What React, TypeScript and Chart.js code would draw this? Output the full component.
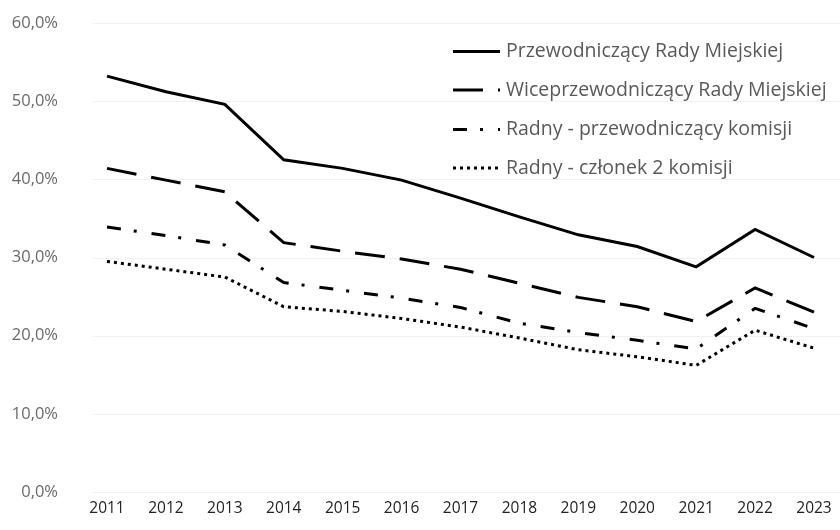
import React, { useEffect, useRef } from 'react';
import { Chart, registerables } from 'chart.js';

Chart.register(...registerables);

const years = ['2011', '2012', '2013', '2014', '2015', '2016', '2017', '2018', '2019', '2020', '2021', '2022', '2023'];
const przewodniczacy = [53.2, 51.2, 49.6, 42.5, 41.4, 39.9, 37.6, 35.2, 32.9, 31.4, 28.8, 33.6, 30.0];
const wiceprzewodniczacy = [41.4, 39.9, 38.4, 31.9, 30.8, 29.8, 28.5, 26.7, 24.9, 23.7, 21.8, 26.1, 23.0];
const radnyPrzewodniczacy = [33.9, 32.8, 31.6, 26.8, 25.8, 24.8, 23.6, 21.6, 20.4, 19.4, 18.3, 23.5, 20.9];
const radnyCzlonek = [29.5, 28.5, 27.5, 23.7, 23.1, 22.2, 21.1, 19.7, 18.2, 17.3, 16.2, 20.7, 18.4];

const seriesLabels = [
  'Przewodniczący Rady Miejskiej',
  'Wiceprzewodniczący Rady Miejskiej',
  'Radny - przewodniczący komisji',
  'Radny - członek 2 komisji',
];
const yTicks = [0, 10, 20, 30, 40, 50, 60];

const FONT = "'Open Sans', sans-serif";

const gridPlugin = {
  id: 'wideGrid',
  beforeDatasetsDraw(chart: any) {
    const ctx = chart.ctx;
    const yScale = chart.scales.y;
    ctx.save();
    ctx.strokeStyle = '#f1f1f1';
    ctx.lineWidth = 1;
    yScale.ticks.forEach((t: any) => {
      const y = Math.round(yScale.getPixelForValue(t.value)) + 0.5;
      ctx.beginPath();
      ctx.moveTo(93, y);
      ctx.lineTo(840, y);
      ctx.stroke();
    });
    ctx.restore();
  },
};

const legendPlugin = {
  id: 'insideLegend',
  afterDraw(chart: any) {
    const ctx = chart.ctx;
    const x0 = 453;
    const x1 = 500;
    const rows = [51.5, 90, 129.5, 168];
    ctx.save();
    chart.data.datasets.forEach((ds: any, i: number) => {
      const y = rows[i];
      ctx.beginPath();
      ctx.setLineDash(ds.borderDash || []);
      ctx.lineDashOffset = 0;
      ctx.lineWidth = ds.borderWidth;
      ctx.strokeStyle = ds.borderColor;
      ctx.lineCap = 'butt';
      ctx.moveTo(x0, y);
      ctx.lineTo(x1, y);
      ctx.stroke();
      ctx.setLineDash([]);
      ctx.fillStyle = '#595959';
      ctx.font = `19.5px ${FONT}`;
      ctx.textBaseline = 'middle';
      ctx.textAlign = 'left';
      ctx.fillText(ds.label, 506, y);
    });
    ctx.restore();
  },
};

export default function App() {
  const ref = useRef<HTMLCanvasElement>(null);
  useEffect(() => {
    document.body.style.margin = '0';
    const canvas = ref.current;
    if (!canvas) return;
    const chart = new Chart(canvas, {
      type: 'line',
      data: {
        labels: years,
        datasets: [
          { label: seriesLabels[0], data: przewodniczacy, borderColor: '#000', borderWidth: 3, borderDash: [], pointRadius: 0, fill: false, tension: 0 },
          { label: seriesLabels[1], data: wiceprzewodniczacy, borderColor: '#000', borderWidth: 3, borderDash: [30, 15], pointRadius: 0, fill: false, tension: 0 },
          { label: seriesLabels[2], data: radnyPrzewodniczacy, borderColor: '#000', borderWidth: 3, borderDash: [14, 13, 3, 15], pointRadius: 0, fill: false, tension: 0 },
          { label: seriesLabels[3], data: radnyCzlonek, borderColor: '#000', borderWidth: 3, borderDash: [3, 4], pointRadius: 0, fill: false, tension: 0 },
        ],
      },
      options: {
        animation: false,
        responsive: false,
        devicePixelRatio: 1,
        layout: { padding: { left: 0, right: 26, top: 23, bottom: 0 } },
        plugins: { legend: { display: false }, tooltip: { enabled: false } },
        scales: {
          x: {
            type: 'category',
            offset: false,
            grid: { display: false, drawTicks: false },
            border: { display: false },
            ticks: { color: '#222', font: { family: FONT, size: 15.5 }, padding: 7, maxRotation: 0, autoSkip: false },
            afterFit(scale: any) { scale.height = 38; },
          },
          y: {
            min: 0,
            max: 60,
            afterBuildTicks(scale: any) { scale.ticks = yTicks.map((v) => ({ value: v })); },
            grid: { display: false, drawTicks: false },
            border: { display: false },
            ticks: {
              color: '#6a6a6a',
              font: { family: FONT, size: 16.5 },
              padding: 49,
              callback: (v: any) => `${Number(v).toFixed(1).replace('.', ',')}%`,
            },
            afterFit(scale: any) {
              scale.width = 107;
              scale.paddingTop = 10;
              scale.paddingBottom = 10;
            },
          },
        },
      },
      plugins: [gridPlugin, legendPlugin],
    } as any);
    return () => chart.destroy();
  }, []);
  return (
    <div style={{ position: 'absolute', left: 0, top: 0, width: 840, height: 530, background: '#fff' }}>
      <canvas ref={ref} width={840} height={530} style={{ width: 840, height: 530 }} />
    </div>
  );
}
